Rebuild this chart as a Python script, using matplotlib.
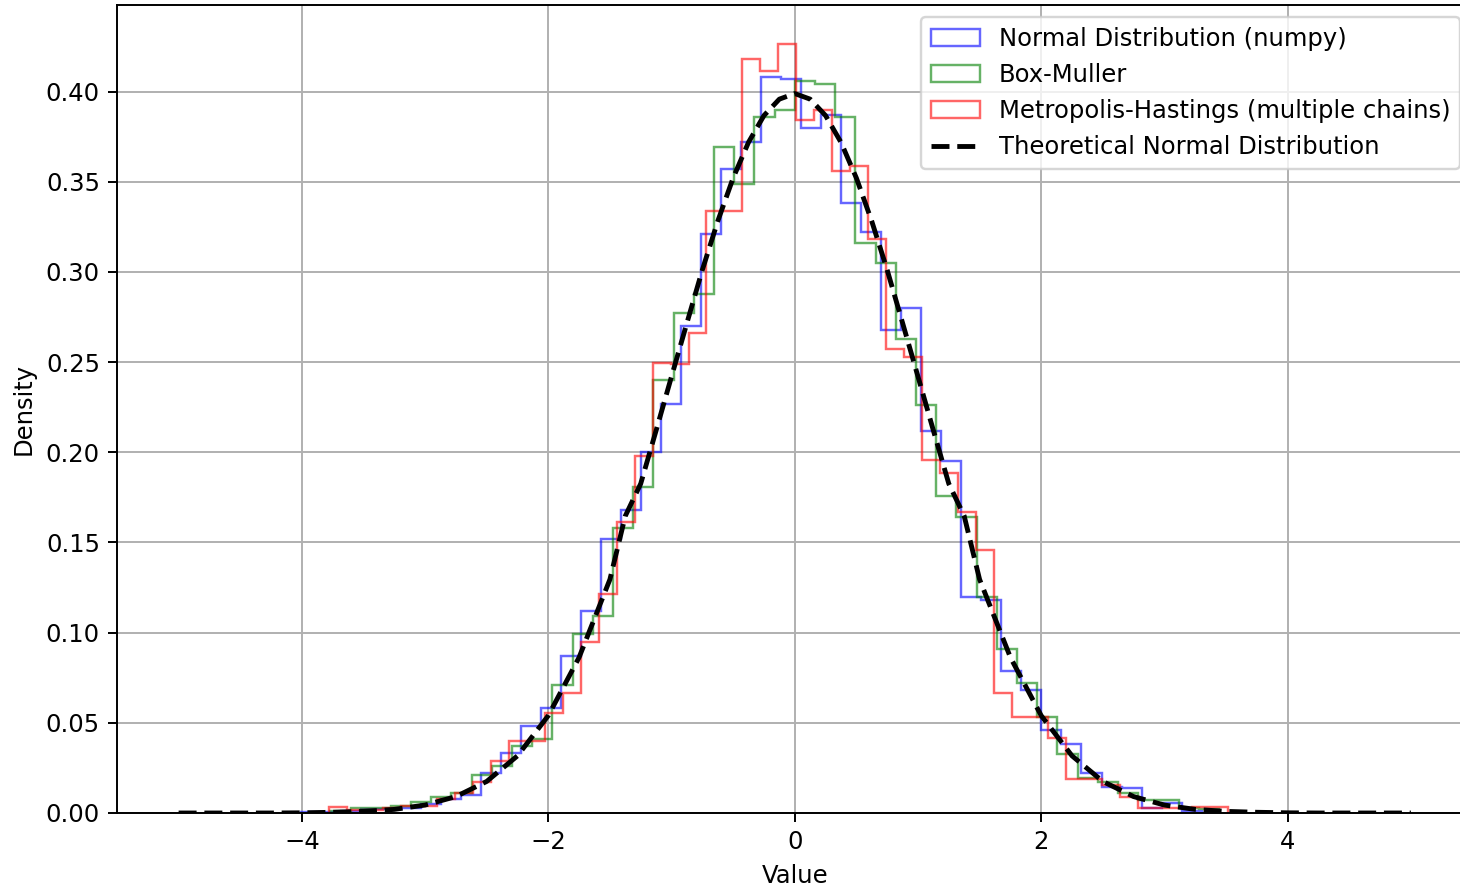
import numpy as np
from matplotlib import pyplot as plt

# bin ranges of the three histograms (left edge, right edge)
numpy_range = (-4.004, 3.301)
boxmuller_range = (-3.769, 3.442)
mh_range = (-3.781, 3.516)

# densities, left to right
numpy_density = [0.0006, 0.0006, 0.001, 0.002, 0.002, 0.003, 0.005, 0.008, 0.010, 0.022,
                 0.033, 0.048, 0.058, 0.087, 0.112, 0.152, 0.168, 0.200, 0.227, 0.270,
                 0.321, 0.357, 0.372, 0.408, 0.407, 0.380, 0.387, 0.338, 0.322, 0.268,
                 0.280, 0.212, 0.195, 0.120, 0.118, 0.079, 0.068, 0.046, 0.038, 0.022,
                 0.0145, 0.014, 0.003, 0.0055, 0.001]

boxmuller_density = [0.0012, 0.0025, 0.0026, 0.004, 0.006, 0.009, 0.011, 0.021, 0.026, 0.037,
                     0.041, 0.071, 0.099, 0.1095, 0.158, 0.181, 0.240, 0.277, 0.288, 0.369,
                     0.349, 0.386, 0.390, 0.4057, 0.4044, 0.386, 0.316, 0.305, 0.263, 0.226,
                     0.176, 0.164, 0.120, 0.091, 0.072, 0.053, 0.0325, 0.0192, 0.017, 0.011,
                     0.0072, 0.0072, 0.0028, 0.002]

mh_density = [0.0035, 0.0015, 0.0015, 0.003, 0.004, 0.004, 0.008, 0.011, 0.017, 0.029,
              0.040, 0.040, 0.0553, 0.0664, 0.095, 0.1215, 0.1616, 0.198, 0.2495, 0.249,
              0.266, 0.3336, 0.3336, 0.4183, 0.4113, 0.4265, 0.3845, 0.390, 0.3558, 0.3586,
              0.318, 0.257, 0.253, 0.196, 0.1885, 0.167, 0.146, 0.0664, 0.053, 0.053,
              0.0414, 0.0187, 0.0187, 0.0155, 0.009, 0.003, 0.003, 0.003, 0.0035, 0.0035]

# theoretical curve
theory_x = [-5.0, -4.75, -4.5, -4.25, -4.0, -3.75, -3.5, -3.25, -3.0, -2.75, -2.5, -2.25,
            -2.0, -1.75, -1.5, -1.375, -1.25, -1.125, -1.0, -0.875, -0.75, -0.625, -0.5,
            -0.375, -0.25, -0.125, 0.0, 0.125, 0.25, 0.375, 0.5, 0.625, 0.75, 0.875,
            1.0, 1.125, 1.25, 1.375, 1.5, 1.75, 2.0, 2.25, 2.5, 2.75, 3.0, 3.25, 3.5,
            3.75, 4.0, 4.25, 4.5, 4.75, 5.0]
theory_y = [0.0, 0.0, 0.0, 0.0, 0.0001, 0.0004, 0.0009, 0.002, 0.0044, 0.0091, 0.0175, 0.0317,
            0.054, 0.0863, 0.1295, 0.1647, 0.1826, 0.2121, 0.242, 0.2717, 0.3011, 0.3281, 0.3521,
            0.3719, 0.3867, 0.3958, 0.3989, 0.3958, 0.3867, 0.3719, 0.3521, 0.3281, 0.3011, 0.2717,
            0.242, 0.2121, 0.1826, 0.1647, 0.1295, 0.0863, 0.054, 0.0317, 0.0175, 0.0091,
            0.0044, 0.002, 0.0009, 0.0004, 0.0001, 0.0, 0.0, 0.0, 0.0]


if __name__ == "__main__":

    dpi = 175
    fig = plt.figure(figsize=(1460 / dpi, 889 / dpi), dpi=dpi)
    # the axes runs a little past the right edge of the picture, as in the original
    ax = fig.add_axes([117 / 1460, 1 - 813 / 889, (1472.5 - 117) / 1460, (813 - 5) / 889])

    series = [
        (numpy_density, numpy_range, "blue", "Normal Distribution (numpy)"),
        (boxmuller_density, boxmuller_range, "green", "Box-Muller"),
        (mh_density, mh_range, "red", "Metropolis-Hastings (multiple chains)"),
    ]
    for values, (lo, hi), color, label in series:
        edges = np.linspace(lo, hi, len(values) + 1)
        ax.hist(edges[:-1], bins=edges, weights=values, histtype="step",
                color=color, alpha=0.6, linewidth=1, label=label)

    ax.plot(theory_x, theory_y, "k--", linewidth=2, label="Theoretical Normal Distribution")

    ax.set_xlim(-5.5, 5.5)
    ax.set_ylim(0, 0.448)
    ax.set_xlabel("Value")
    ax.set_ylabel("Density")
    ax.grid(True)
    ax.legend(loc="upper right")

    plt.savefig("out.png", dpi=dpi)
